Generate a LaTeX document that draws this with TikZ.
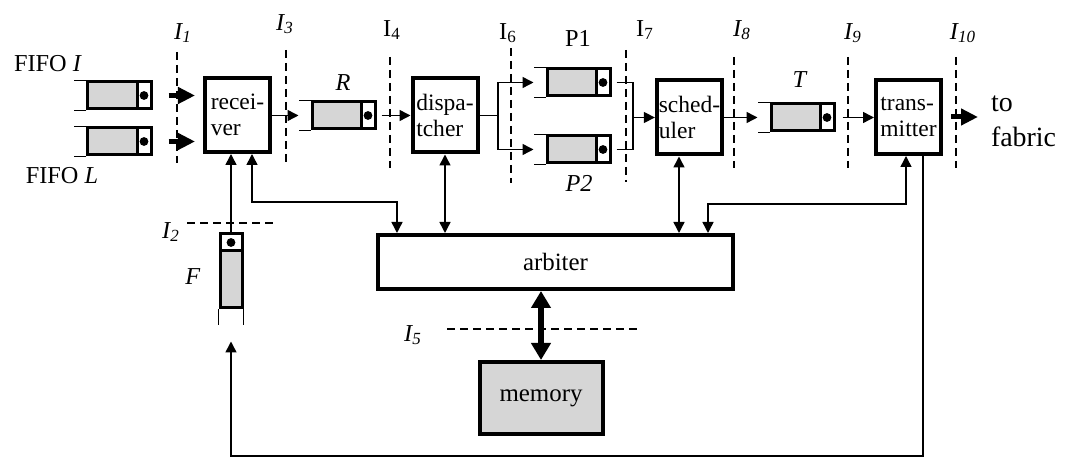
\documentclass[tikz,border=0pt]{standalone}
\usepackage{fontspec}
\setmainfont{Liberation Serif}
\usepackage{tikz}
\usetikzlibrary{arrows.meta,calc}

\definecolor{qgray}{gray}{0.84}

% a FIFO lying flat: #1 name, #2 centre of its body
\newcommand{\hfifo}[2]{%
  \node[qbody, minimum width=31.5bp, minimum height=13.5bp] (#1) at (#2) {};
  \node[qcell, minimum width=7bp, minimum height=13.5bp, anchor=east] (#1c) at (#1.east) {};
  \fill (#1c) circle (2.2bp);
  \draw[qopen] (#1.north west) -- ++(-12,0);
  \draw[qopen] (#1.south west) -- ++(-12,0);
  \coordinate (#1-in) at ($(#1.west)+(-12,0)$);
}

\begin{document}
\begin{tikzpicture}[x=0.5bp, y=-0.5bp,
  font=\fontsize{12.2}{13.5}\selectfont,
  box/.style={draw, line width=2bp, inner sep=2bp},
  unit/.style={box, minimum width=32.5bp, minimum height=37bp, align=left, inner xsep=1pt,
               font=\fontsize{11.8}{13}\selectfont},
  qbody/.style={draw, line width=1.5bp, fill=qgray, inner sep=0pt},
  qcell/.style={draw, line width=1.5bp, fill=white, inner sep=0pt},
  qopen/.style={line width=0.8bp},
  iface/.style={line width=1bp, dash pattern=on 4bp off 2.5bp},
  wire/.style={line width=0.75bp},
  link/.style={wire, -{Triangle[length=5.5bp,width=5.5bp]}},
  duplex/.style={wire, {Triangle[length=5.5bp,width=5.5bp]}-{Triangle[length=5.5bp,width=5.5bp]}},
  fat/.style={line width=2.5bp, -{Triangle[length=8.5bp,width=8bp]}},
  fatduplex/.style={line width=3bp, {Triangle[length=8.5bp,width=9.5bp]}-{Triangle[length=8.5bp,width=9.5bp]}},
]
  \useasboundingbox (0,0) rectangle (1071,457);

  % processing units
  \node[unit] (recv)  at (237.5,115)   {recei-\\ver};
  \node[unit] (disp)  at (445,115.5)   {dispa-\\tcher};
  \node[unit] (sched) at (689.5,117.5) {sched-\\uler};
  \node[unit] (trans) at (908.5,117)   {trans-\\mitter};
  \node[box, minimum width=177.5bp, minimum height=27bp,
        font=\fontsize{12.5}{14}\selectfont] (arb) at (555.5,262) {arbiter};
  \node[box, fill=qgray, minimum width=61.5bp, minimum height=36bp,
        font=\fontsize{12.5}{14}\selectfont] (mem) at (541,398) {memory};

  % queues
  \hfifo{qI}{119.5,95.5}
  \hfifo{qL}{119.5,141.5}
  \hfifo{R}{343.5,115.5}
  \hfifo{P1}{578.5,82.5}
  \hfifo{P2}{578.5,149.5}
  \hfifo{T}{802.5,117.5}
  % the free list stands upright
  \node[qbody, minimum width=11bp, minimum height=37bp] (F) at (231,271) {};
  \node[qcell, minimum width=11bp, minimum height=8.5bp, anchor=north] (Fc) at (F.north) {};
  \fill (Fc) circle (2.2bp);
  \draw[qopen] (F.south west) -- ++(0,16);
  \draw[qopen] (F.south east) -- ++(0,16);
  \coordinate (F-in) at ($(F.south)+(0,16)$);

  % queue names
  \node (nameI)  at (48,64)   {FIFO \textit{I}};
  \node (nameL)  at (62,176)  {FIFO \textit{L}};
  \node (nameR)  at (343,83)  {\textit{R}};
  \node (nameP1) at (578,38)  {P1};
  \node (nameP2) at (579,183) {\textit{P2}};
  \node (nameT)  at (800,80)  {\textit{T}};
  \node (nameF)  at (193,277) {\textit{F}};
  \node[font=\fontsize{14}{17.5}\selectfont, align=left, anchor=west] (fabric) at (984,121) {to\\fabric};

  % interfaces
  \foreach \x/\top/\bot/\lx/\ly/\txt in {
      177/52/163/183/33/\textit{I\textsubscript{1}},
      286/50/165/285/24/\textit{I\textsubscript{3}},
      390/57/168/392/30/I\textsubscript{4},
      511/48/183/508/33/I\textsubscript{6},
      626/50/182/645/30/I\textsubscript{7},
      734/57/168/742/30/\textit{I\textsubscript{8}},
      848/57/168/853/33/\textit{I\textsubscript{9}},
      956/57/168/963/33/\textit{I\textsubscript{10}}}{
    \draw[iface] (\x,\top) -- (\x,\bot);
    \node (lbl\x) at (\lx,\ly) {\txt};
  }
  \draw[iface] (187,223) -- (274,223);
  \node (lblI2) at (171,232) {\textit{I\textsubscript{2}}};
  \draw[iface] (447,329) -- (637,329);
  \node (lblI5) at (413,335) {\textit{I\textsubscript{5}}};

  % data path
  \draw[fat, shorten <=8bp, shorten >=4bp] (qI.east) -- (qI.east -| recv.west);
  \draw[fat, shorten <=8bp, shorten >=4bp] (qL.east) -- (qL.east -| recv.west);
  \draw[link] (recv.east |- R) -- (R-in);
  \draw[link, shorten <=2.5bp] (R.east) -- (R.east -| disp.west);
  \coordinate (split) at (498,115.5);
  \draw[wire] (disp.east) -- (split);
  \draw[link] (split) |- (P1-in);
  \draw[link] (split) |- (P2-in);
  \coordinate (merge) at (633,117.5);
  \draw[wire, shorten <=2.5bp] (P1.east) -| (merge);
  \draw[wire, shorten <=2.5bp] (P2.east) -| (merge);
  \draw[link] (merge) -- (sched.west);
  \draw[link] (sched.east) -- (T-in);
  \draw[link, shorten <=3.5bp] (T.east) -- (T.east -| trans.west);
  \draw[fat, shorten <=4bp, shorten >=3bp] (trans.east) -- (trans.east -| fabric.west);
  \draw[link] (F.north) -- (F.north |- recv.south);

  % control links to the arbiter
  \draw[duplex] ($(recv.south)+(14.5,0)$) -- ++(0,48) -| ($(arb.north west)+(21,0)$);
  \draw[duplex] (disp.south) -- (disp.south |- arb.north);
  \coordinate (sdown) at ($(sched.south)+(-10.5,0)$);
  \draw[duplex] (sdown) -- (sdown |- arb.north);
  \draw[duplex] ($(trans.south)+(-2.5,0)$) -- ++(0,48) -| ($(arb.north east)+(-27,0)$);
  \draw[fatduplex] (mem.north |- arb.south) -- (mem.north);

  % return path along the bottom
  \coordinate (floor) at (231,456);
  \draw[link, shorten >=8bp] ($(trans.south)+(14.5,0)$) |- (floor) -- (F-in);
\end{tikzpicture}
\end{document}
